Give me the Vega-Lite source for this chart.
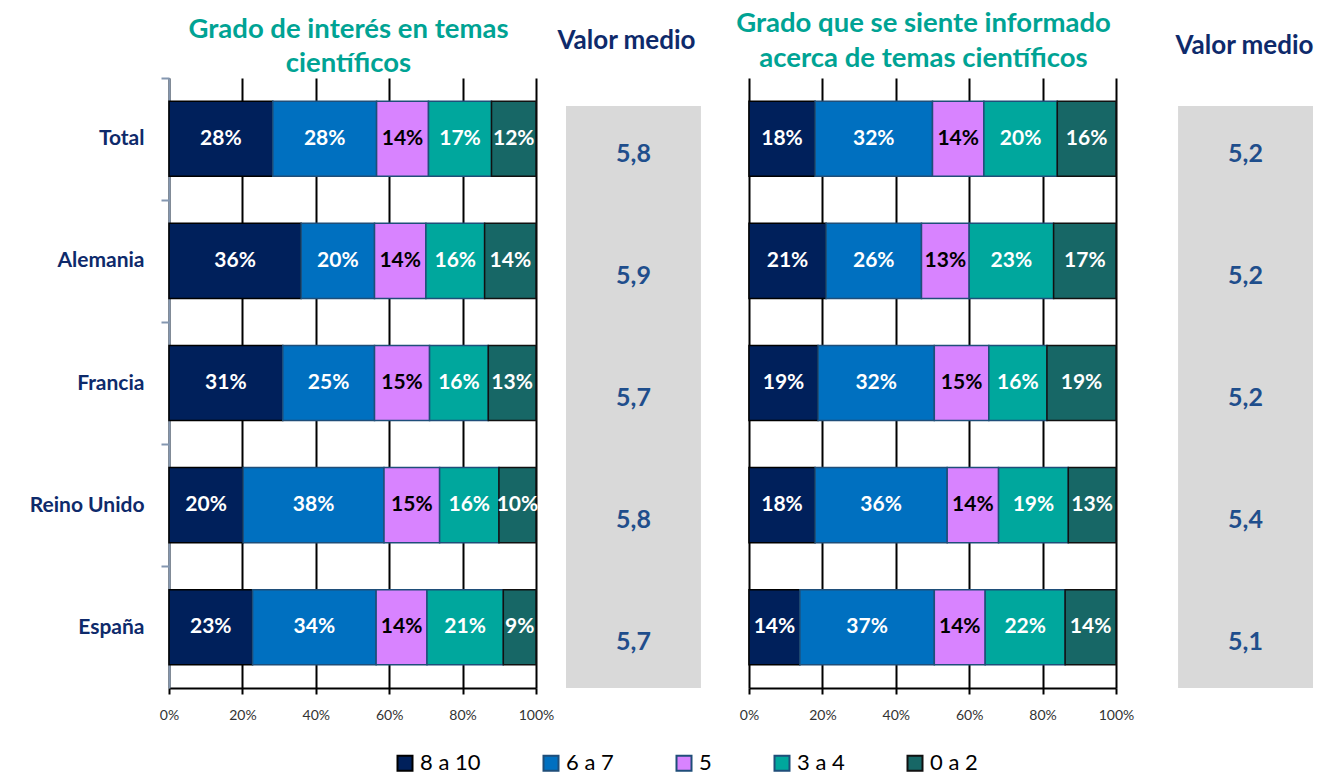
{
  "$schema": "https://vega.github.io/schema/vega-lite/v6.json",
  "padding": {"left": 29, "top": 9, "right": 5, "bottom": 5},
  "background": "white",
  "config": {
    "view": {"stroke": null},
    "locale": {"number": {"decimal": ",", "thousands": ".", "grouping": [3], "currency": ["", " €"]}},
    "font": "Lato"
  },
  "datasets": {
    "bars": [
      {"panel": "A", "pais": "Total", "cat": "8 a 10", "v": 0.28},
      {"panel": "A", "pais": "Total", "cat": "6 a 7", "v": 0.28},
      {"panel": "A", "pais": "Total", "cat": "5", "v": 0.14},
      {"panel": "A", "pais": "Total", "cat": "3 a 4", "v": 0.17},
      {"panel": "A", "pais": "Total", "cat": "0 a 2", "v": 0.12},
      {"panel": "A", "pais": "Alemania", "cat": "8 a 10", "v": 0.36},
      {"panel": "A", "pais": "Alemania", "cat": "6 a 7", "v": 0.20},
      {"panel": "A", "pais": "Alemania", "cat": "5", "v": 0.14},
      {"panel": "A", "pais": "Alemania", "cat": "3 a 4", "v": 0.16},
      {"panel": "A", "pais": "Alemania", "cat": "0 a 2", "v": 0.14},
      {"panel": "A", "pais": "Francia", "cat": "8 a 10", "v": 0.31},
      {"panel": "A", "pais": "Francia", "cat": "6 a 7", "v": 0.25},
      {"panel": "A", "pais": "Francia", "cat": "5", "v": 0.15},
      {"panel": "A", "pais": "Francia", "cat": "3 a 4", "v": 0.16},
      {"panel": "A", "pais": "Francia", "cat": "0 a 2", "v": 0.13},
      {"panel": "A", "pais": "Reino Unido", "cat": "8 a 10", "v": 0.20},
      {"panel": "A", "pais": "Reino Unido", "cat": "6 a 7", "v": 0.38},
      {"panel": "A", "pais": "Reino Unido", "cat": "5", "v": 0.15},
      {"panel": "A", "pais": "Reino Unido", "cat": "3 a 4", "v": 0.16},
      {"panel": "A", "pais": "Reino Unido", "cat": "0 a 2", "v": 0.10},
      {"panel": "A", "pais": "España", "cat": "8 a 10", "v": 0.23},
      {"panel": "A", "pais": "España", "cat": "6 a 7", "v": 0.34},
      {"panel": "A", "pais": "España", "cat": "5", "v": 0.14},
      {"panel": "A", "pais": "España", "cat": "3 a 4", "v": 0.21},
      {"panel": "A", "pais": "España", "cat": "0 a 2", "v": 0.09},
      {"panel": "B", "pais": "Total", "cat": "8 a 10", "v": 0.18},
      {"panel": "B", "pais": "Total", "cat": "6 a 7", "v": 0.32},
      {"panel": "B", "pais": "Total", "cat": "5", "v": 0.14},
      {"panel": "B", "pais": "Total", "cat": "3 a 4", "v": 0.20},
      {"panel": "B", "pais": "Total", "cat": "0 a 2", "v": 0.16},
      {"panel": "B", "pais": "Alemania", "cat": "8 a 10", "v": 0.21},
      {"panel": "B", "pais": "Alemania", "cat": "6 a 7", "v": 0.26},
      {"panel": "B", "pais": "Alemania", "cat": "5", "v": 0.13},
      {"panel": "B", "pais": "Alemania", "cat": "3 a 4", "v": 0.23},
      {"panel": "B", "pais": "Alemania", "cat": "0 a 2", "v": 0.17},
      {"panel": "B", "pais": "Francia", "cat": "8 a 10", "v": 0.19},
      {"panel": "B", "pais": "Francia", "cat": "6 a 7", "v": 0.32},
      {"panel": "B", "pais": "Francia", "cat": "5", "v": 0.15},
      {"panel": "B", "pais": "Francia", "cat": "3 a 4", "v": 0.16},
      {"panel": "B", "pais": "Francia", "cat": "0 a 2", "v": 0.19},
      {"panel": "B", "pais": "Reino Unido", "cat": "8 a 10", "v": 0.18},
      {"panel": "B", "pais": "Reino Unido", "cat": "6 a 7", "v": 0.36},
      {"panel": "B", "pais": "Reino Unido", "cat": "5", "v": 0.14},
      {"panel": "B", "pais": "Reino Unido", "cat": "3 a 4", "v": 0.19},
      {"panel": "B", "pais": "Reino Unido", "cat": "0 a 2", "v": 0.13},
      {"panel": "B", "pais": "España", "cat": "8 a 10", "v": 0.14},
      {"panel": "B", "pais": "España", "cat": "6 a 7", "v": 0.37},
      {"panel": "B", "pais": "España", "cat": "5", "v": 0.14},
      {"panel": "B", "pais": "España", "cat": "3 a 4", "v": 0.22},
      {"panel": "B", "pais": "España", "cat": "0 a 2", "v": 0.14}
    ],
    "means": [
      {"panel": "A", "pais": "Total", "m": 5.8},
      {"panel": "A", "pais": "Alemania", "m": 5.9},
      {"panel": "A", "pais": "Francia", "m": 5.7},
      {"panel": "A", "pais": "Reino Unido", "m": 5.8},
      {"panel": "A", "pais": "España", "m": 5.7},
      {"panel": "B", "pais": "Total", "m": 5.2},
      {"panel": "B", "pais": "Alemania", "m": 5.2},
      {"panel": "B", "pais": "Francia", "m": 5.2},
      {"panel": "B", "pais": "Reino Unido", "m": 5.4},
      {"panel": "B", "pais": "España", "m": 5.1}
    ]
  },
  "bounds": "flush",
  "spacing": 30,
  "hconcat": [
    {
      "width": 367, "height": 610,
      "title": {"text": ["Grado de interés en temas", "científicos"], "font": "Lato", "fontSize": 27.5, "fontWeight": "bold", "color": "#00A394", "lineHeight": 34, "offset": 0, "anchor": "middle", "dx": -4},
      "data": {"name": "bars"},
      "transform": [{"filter": "datum.panel === 'A'"}],
      "encoding": {
        "y": {"field": "pais", "type": "nominal", "sort": ["Total", "Alemania", "Francia", "Reino Unido", "España"],
          "scale": {"paddingInner": 0.385, "paddingOuter": 0.19},
          "axis": {"title": null, "domainColor": "#8497B0", "domainWidth": 2, "tickColor": "#8497B0", "tickWidth": 2, "tickSize": 8, "tickOffset": -61, "labelOffset": 61, "labelFont": "Lato", "labelFontWeight": "bold", "labelFontSize": 21, "labelColor": "#0E2A6B", "labelPadding": 17, "grid": false}}
      },
      "layer": [
        {
          "mark": {"type": "bar", "strokeWidth": 1.5},
          "encoding": {
            "x": {"field": "v", "type": "quantitative", "stack": "normalize", "scale": {"domain": [0, 1]},
              "axis": {"title": null, "values": [0, 0.2, 0.4, 0.6, 0.8, 1], "format": ".0%", "grid": true, "gridColor": "black", "gridWidth": 2, "gridOpacity": 1, "domainColor": "black", "domainWidth": 2, "tickColor": "black", "tickWidth": 2, "tickSize": 6, "labelFont": "Lato", "labelFontSize": 14, "labelColor": "#333333", "labelPadding": 14, "labelFlush": false}},
            "color": {"field": "cat", "type": "nominal", "title": null,
              "scale": {"domain": ["8 a 10", "6 a 7", "5", "3 a 4", "0 a 2"], "range": ["#00205B", "#0070C0", "#D883FF", "#00A79D", "#176766"]},
              "legend": {"orient": "none", "legendX": 225, "legendY": 674, "direction": "horizontal", "columns": 5, "columnPadding": 58, "symbolType": "square", "symbolSize": 225, "symbolStrokeWidth": 2, "labelFont": "Lato", "labelFontSize": 22, "labelColor": "#000000", "labelOffset": 4}},
            "stroke": {"field": "cat", "type": "nominal", "title": null,
              "scale": {"domain": ["8 a 10", "6 a 7", "5", "3 a 4", "0 a 2"], "range": ["#000000", "#1F4E79", "#1F4E79", "#1F4E79", "#111111"]}},
            "order": {"field": "cat", "sort": "descending"}
          }
        },
        {
          "mark": {"type": "text", "font": "Lato", "fontWeight": "bold", "fontSize": 21},
          "encoding": {
            "x": {"field": "v", "type": "quantitative", "stack": "normalize", "bandPosition": 0.5},
            "detail": {"field": "cat"},
            "order": {"field": "cat", "sort": "descending"},
            "text": {"field": "v", "type": "quantitative", "format": ".0%"},
            "color": {"condition": {"test": "datum.cat === '5'", "value": "#000000"}, "value": "#FFFFFF"}
          }
        }
      ]
    },
    {
      "width": 153, "height": 610,
      "title": {"text": "Valor medio", "font": "Lato", "fontSize": 26, "fontWeight": "bold", "color": "#0E2A6B", "offset": 24, "anchor": "middle", "dx": -16},
      "layer": [
        {
          "data": {"values": [{}]},
          "mark": {"type": "rect", "fill": "#D9D9D9"},
          "encoding": {
            "x": {"datum": 0, "type": "quantitative", "scale": {"domain": [0, 1]}, "axis": null},
            "x2": {"datum": 0.882},
            "y": {"datum": 0, "type": "quantitative", "scale": {"domain": [0, 1]}, "axis": null},
            "y2": {"datum": 0.954}
          }
        },
        {
          "data": {"name": "means"},
          "transform": [{"filter": "datum.panel === 'A'"}],
          "mark": {"type": "text", "font": "Lato", "fontWeight": "bold", "fontSize": 25, "color": "#1F4E8C", "dy": 15},
          "encoding": {
            "x": {"datum": 0.441, "type": "quantitative"},
            "y": {"field": "pais", "type": "nominal", "sort": ["Total", "Alemania", "Francia", "Reino Unido", "España"], "scale": {"paddingInner": 0.385, "paddingOuter": 0.19}, "axis": null},
            "text": {"field": "m", "type": "quantitative", "format": ".1f"}
          }
        }
      ],
      "resolve": {"scale": {"y": "independent"}}
    },
    {
      "width": 367, "height": 610,
      "title": {"text": ["Grado que se siente informado", "acerca de temas científicos"], "font": "Lato", "fontSize": 27.5, "fontWeight": "bold", "color": "#00A394", "lineHeight": 35, "offset": 6, "anchor": "middle", "dx": -9},
      "data": {"name": "bars"},
      "transform": [{"filter": "datum.panel === 'B'"}],
      "encoding": {
        "y": {"field": "pais", "type": "nominal", "sort": ["Total", "Alemania", "Francia", "Reino Unido", "España"],
          "scale": {"paddingInner": 0.385, "paddingOuter": 0.19}, "axis": null}
      },
      "layer": [
        {
          "mark": {"type": "bar", "strokeWidth": 1.5},
          "encoding": {
            "x": {"field": "v", "type": "quantitative", "stack": "normalize", "scale": {"domain": [0, 1]},
              "axis": {"title": null, "values": [0, 0.2, 0.4, 0.6, 0.8, 1], "format": ".0%", "grid": true, "gridColor": "black", "gridWidth": 2, "gridOpacity": 1, "domainColor": "black", "domainWidth": 2, "tickColor": "black", "tickWidth": 2, "tickSize": 6, "labelFont": "Lato", "labelFontSize": 14, "labelColor": "#333333", "labelPadding": 14, "labelFlush": false}},
            "color": {"field": "cat", "type": "nominal", "title": null,
              "scale": {"domain": ["8 a 10", "6 a 7", "5", "3 a 4", "0 a 2"], "range": ["#00205B", "#0070C0", "#D883FF", "#00A79D", "#176766"]}},
            "stroke": {"field": "cat", "type": "nominal", "title": null,
              "scale": {"domain": ["8 a 10", "6 a 7", "5", "3 a 4", "0 a 2"], "range": ["#000000", "#1F4E79", "#1F4E79", "#1F4E79", "#111111"]}},
            "order": {"field": "cat", "sort": "descending"}
          }
        },
        {
          "mark": {"type": "text", "font": "Lato", "fontWeight": "bold", "fontSize": 21},
          "encoding": {
            "x": {"field": "v", "type": "quantitative", "stack": "normalize", "bandPosition": 0.5},
            "detail": {"field": "cat"},
            "order": {"field": "cat", "sort": "descending"},
            "text": {"field": "v", "type": "quantitative", "format": ".0%"},
            "color": {"condition": {"test": "datum.cat === '5'", "value": "#000000"}, "value": "#FFFFFF"}
          }
        }
      ]
    },
    {
      "width": 167, "height": 610,
      "title": {"text": "Valor medio", "font": "Lato", "fontSize": 26, "fontWeight": "bold", "color": "#0E2A6B", "offset": 19, "anchor": "middle", "dx": 15},
      "layer": [
        {
          "data": {"values": [{}]},
          "mark": {"type": "rect", "fill": "#D9D9D9"},
          "encoding": {
            "x": {"datum": 0.192, "type": "quantitative", "scale": {"domain": [0, 1]}, "axis": null},
            "x2": {"datum": 1},
            "y": {"datum": 0, "type": "quantitative", "scale": {"domain": [0, 1]}, "axis": null},
            "y2": {"datum": 0.954}
          }
        },
        {
          "data": {"name": "means"},
          "transform": [{"filter": "datum.panel === 'B'"}],
          "mark": {"type": "text", "font": "Lato", "fontWeight": "bold", "fontSize": 25, "color": "#1F4E8C", "dy": 15},
          "encoding": {
            "x": {"datum": 0.596, "type": "quantitative"},
            "y": {"field": "pais", "type": "nominal", "sort": ["Total", "Alemania", "Francia", "Reino Unido", "España"], "scale": {"paddingInner": 0.385, "paddingOuter": 0.19}, "axis": null},
            "text": {"field": "m", "type": "quantitative", "format": ".1f"}
          }
        }
      ],
      "resolve": {"scale": {"y": "independent"}}
    }
  ]
}
